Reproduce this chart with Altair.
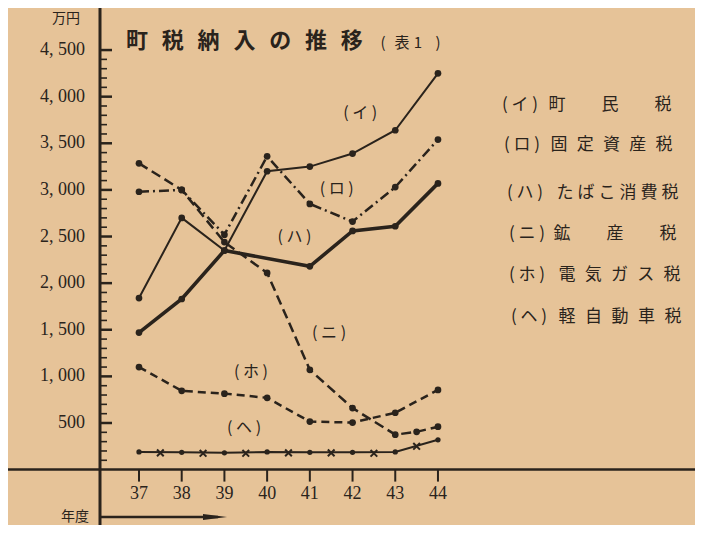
import altair as alt
import pandas as pd
import numpy as np

# ---------------- data ----------------
years = [37, 38, 39, 40, 41, 42, 43, 44]
i_vals = [1840, 2700, 2350, 3200, 3250, 3390, 3640, 4250]        # (イ) 町民税
ro_vals = [2980, 3000, 2520, 3360, 2850, 2660, 3030, 3540]       # (ロ) 固定資産税
ha_years = [37, 38, 39, 41, 42, 43, 44]
ha_vals = [1470, 1830, 2350, 2180, 2560, 2610, 3070]             # (ハ) たばこ消費税
ni_years = [37, 38, 39, 40, 41, 42, 43, 43.5, 44]
ni_vals = [3285, 3000, 2440, 2110, 1070, 660, 375, 405, 460]     # (ニ) 鉱産税
ho_vals = [1100, 845, 815, 770, 515, 505, 610, 855]              # (ホ) 電気ガス税
he_vals = [190, 185, 180, 190, 185, 185, 190, 320]               # (ヘ) 軽自動車税
he_x_years = [37.5, 38.5, 39.5, 40.5, 41.5, 42.5, 43.5]
he_x_vals = [180, 175, 175, 180, 180, 175, 250]

kana = ["イ", "ロ", "ハ", "ニ", "ホ", "ヘ"]
names = ["町民税", "固定資産税", "たばこ消費税", "鉱産税", "電気ガス税", "軽自動車税"]
y_major = [500, 1000, 1500, 2000, 2500, 3000, 3500, 4000, 4500]
y_labels = ["500", "1, 000", "1, 500", "2, 000", "2, 500", "3, 000", "3, 500", "4, 000", "4, 500"]
title_text = "町税納入の推移"

# ---------------- styling ----------------
INK = "#2a231c"
BG = "#e6c398"
JP = "Noto Sans CJK JP"
SERIF = "Liberation Serif"
W, H = 595, 517
ZERO_Y = 461.6   # pixel row of the value 0 inside the plot (x-axis line)

xs = alt.Scale(domain=[36.087, 50.018], nice=False, zero=False)
ys = alt.Scale(domain=[-594, 4951], nice=False, zero=False)

rows = []
for k, yrs, vals in [("イ", years, i_vals), ("ロ", years, ro_vals), ("ハ", ha_years, ha_vals),
                     ("ニ", ni_years, ni_vals), ("ホ", years, ho_vals), ("ヘ", years, he_vals)]:
    for yv, v in zip(yrs, vals):
        rows.append({"s": k, "year": yv, "value": v})
df = pd.DataFrame(rows)
dfx = pd.DataFrame({"year": he_x_years, "value": he_x_vals})

X = alt.X("year:Q", scale=xs, axis=None)
Y = alt.Y("value:Q", scale=ys, axis=None)

layers = []
one = pd.DataFrame({"a": [0]})

# y axis line (full height)
layers.append(alt.Chart(one).mark_rule(color=INK, strokeWidth=3).encode(
    x=alt.value(0), y=alt.value(0), y2=alt.value(H)))
# x axis baseline extending left to the page edge
layers.append(alt.Chart(pd.DataFrame({"value": [0]})).mark_rule(color=INK, strokeWidth=2.5).encode(
    x=alt.value(-100), x2=alt.value(W), y=Y))

# y ticks inside + labels
minor = [v for v in range(100, 4500, 100) if v % 500 != 0]
layers.append(alt.Chart(pd.DataFrame({"value": y_major})).mark_rule(color=INK, strokeWidth=2.5).encode(
    x=alt.value(0), x2=alt.value(12), y=Y))
layers.append(alt.Chart(pd.DataFrame({"value": minor})).mark_rule(color=INK, strokeWidth=1.6).encode(
    x=alt.value(0), x2=alt.value(7), y=Y))
layers.append(alt.Chart(pd.DataFrame({"value": y_major, "t": y_labels})).mark_text(
    font=SERIF, fontSize=18, color=INK, align="right", baseline="middle").encode(
    x=alt.value(-15), y=Y, text="t:N"))

# x ticks + labels
layers.append(alt.Chart(pd.DataFrame({"year": years})).mark_rule(color=INK, strokeWidth=2).encode(
    x=X, y=alt.value(ZERO_Y), y2=alt.value(ZERO_Y + 12)))
layers.append(alt.Chart(pd.DataFrame({"year": years, "t": [str(y) for y in years]})).mark_text(
    font=SERIF, fontSize=18, color=INK, baseline="middle").encode(
    x=X, y=alt.value(ZERO_Y + 24), text="t:N"))

# series
styles = {
    "イ": dict(strokeWidth=2),
    "ロ": dict(strokeWidth=2.5, strokeDash=[10, 4, 2, 4]),
    "ハ": dict(strokeWidth=3.6),
    "ニ": dict(strokeWidth=2.5, strokeDash=[10, 5]),
    "ホ": dict(strokeWidth=2.5, strokeDash=[8, 5]),
    "ヘ": dict(strokeWidth=2),
}
for k in kana:
    base = alt.Chart(df).transform_filter(alt.datum.s == k)
    layers.append(base.mark_line(color=INK, **styles[k]).encode(x=X, y=Y, order="year:Q"))
    sz = 28 if k == "ヘ" else 45
    layers.append(base.mark_point(filled=True, shape="circle", size=sz, color=INK, opacity=1).encode(x=X, y=Y))
layers.append(alt.Chart(dfx).mark_point(shape="M-1,-1L1,1M1,-1L-1,1", filled=False, size=45,
                                        strokeWidth=2, color=INK, opacity=1).encode(x=X, y=Y))

# in-plot series labels
lab_df = pd.DataFrame({
    "t": ["( " + k + " )" for k in kana],
    "year": [42.18, 41.63, 40.64, 41.45, 39.62, 39.46],
    "value": [3830, 3007, 2493, 1466, 1049, 449],
})
layers.append(alt.Chart(lab_df).mark_text(font=JP, fontSize=16, color=INK).encode(x=X, y=Y, text="t:N"))

# title (letter-spaced)
tdf = pd.DataFrame({"t": list(title_text), "px": [37 + i * 35.8 for i in range(len(title_text))],
                    "py": [33] * len(title_text)})
layers.append(alt.Chart(tdf).mark_text(font=JP, fontSize=22, fontWeight="bold", color=INK).encode(
    x=alt.X("px:Q", scale=None), y=alt.Y("py:Q", scale=None), text="t:N"))
sub = pd.DataFrame({"t": ["(", "表", "1", ")"], "px": [283, 302, 318, 338], "py": [35] * 4})
layers.append(alt.Chart(sub).mark_text(font=JP, fontSize=15, color=INK).encode(
    x=alt.X("px:Q", scale=None), y=alt.Y("py:Q", scale=None), text="t:N"))

# legend text (right)
row_y = [105, 145, 193, 234, 275, 317]
lefts = [503, 505, 508, 510, 510, 512]
starts = [557, 559, 565, 562, 567, 567]
ends = [663, 664, 670, 668, 672, 673]
lrows = []
for r in range(6):
    lrows.append({"t": "( " + kana[r] + " )", "px": lefts[r] + 17 - 100, "py": row_y[r] - 8})
    pos = np.linspace(starts[r], ends[r], len(names[r]))
    for ch, p in zip(names[r], pos):
        lrows.append({"t": ch, "px": p - 100, "py": row_y[r] - 8})
layers.append(alt.Chart(pd.DataFrame(lrows)).mark_text(font=JP, fontSize=17, color=INK).encode(
    x=alt.X("px:Q", scale=None), y=alt.Y("py:Q", scale=None), text="t:N"))

# unit and year captions
cap = pd.DataFrame({"t": ["万円", "年度"], "px": [-34, -25], "py": [11, 509]})
layers.append(alt.Chart(cap).mark_text(font=JP, fontSize=14, color=INK).encode(
    x=alt.X("px:Q", scale=None), y=alt.Y("py:Q", scale=None), text="t:N"))

# year arrow
layers.append(alt.Chart(one).mark_rule(color=INK, strokeWidth=2.5).encode(
    x=alt.value(1), x2=alt.value(118), y=alt.value(509)))
layers.append(alt.Chart(one).mark_point(
    shape="M-1,-0.25L1,0L-1,0.25Z", filled=True, size=576, color=INK, opacity=1).encode(
    x=alt.value(115), y=alt.value(509)))

chart = alt.layer(*layers).properties(
    width=W, height=H, background=BG,
    autosize=alt.AutoSizeParams(type="none"),
    padding={"left": 92, "top": 0, "right": 0, "bottom": 0},
).configure_view(stroke=None)

chart.save("out.html", embed_options={"renderer": "svg", "actions": False})
